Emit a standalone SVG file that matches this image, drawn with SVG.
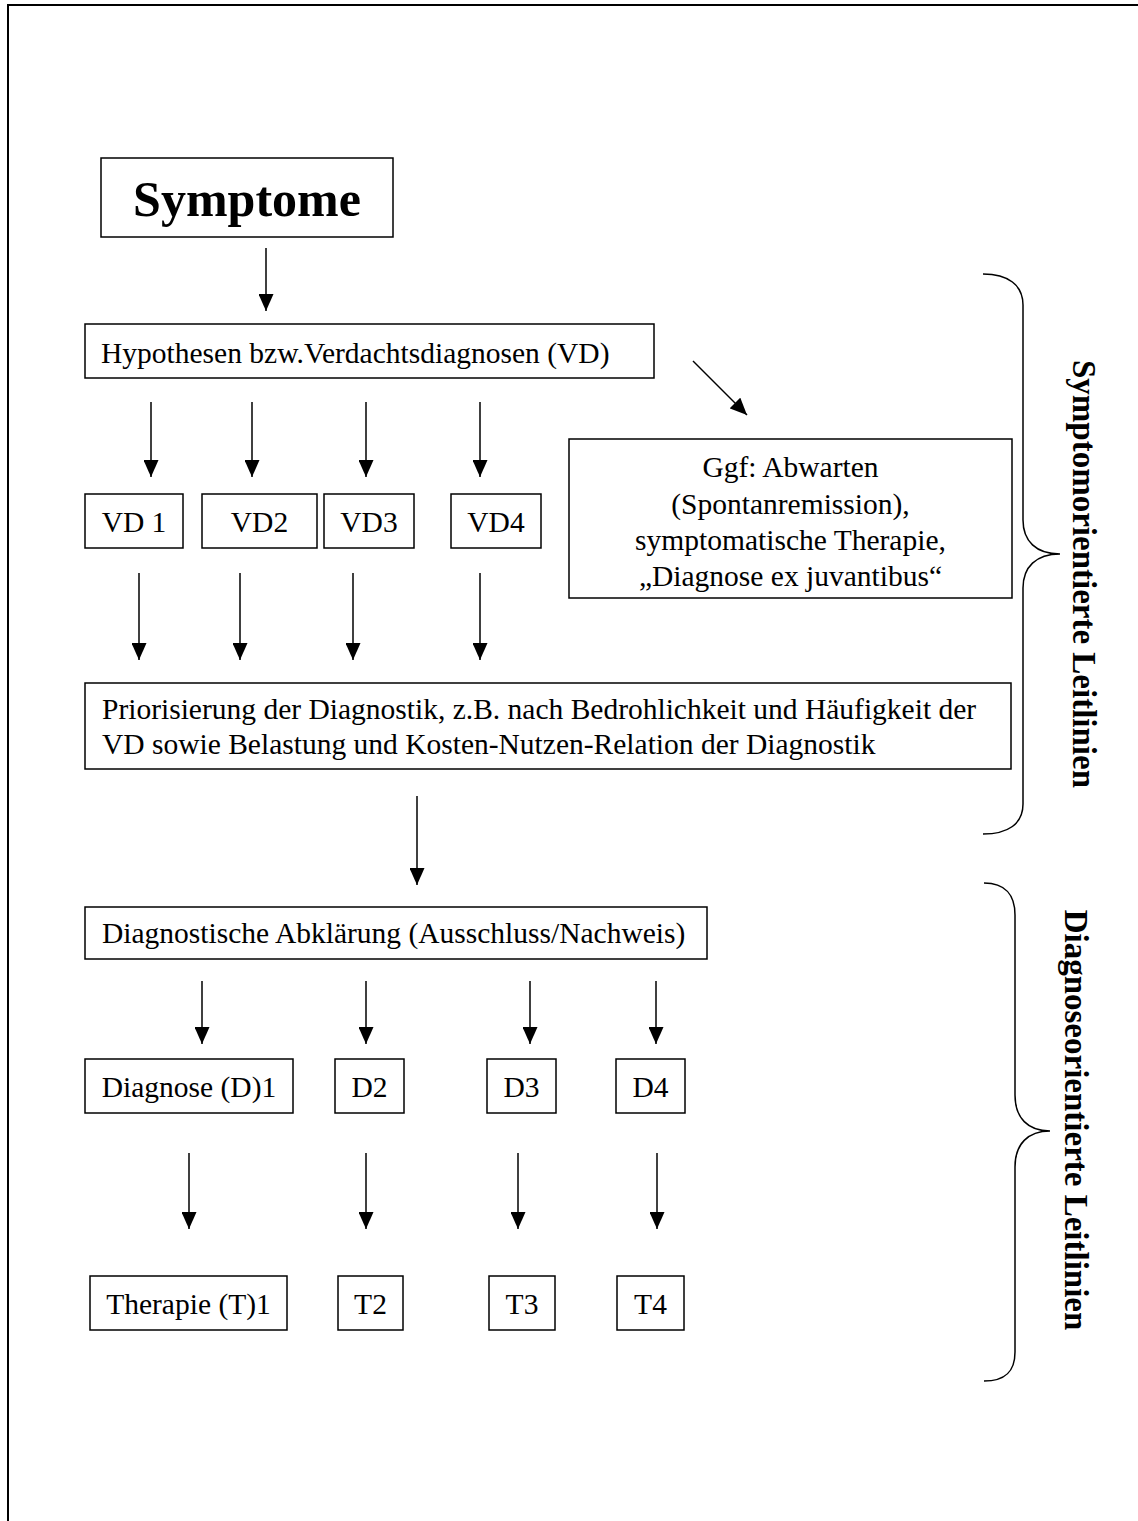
<svg xmlns="http://www.w3.org/2000/svg" width="1138" height="1521" viewBox="0 0 1138 1521">
<style>
.box{fill:#fff;stroke:#000;stroke-width:1.5}
.t{font-family:"Liberation Serif","Times New Roman",serif;font-size:29.5px;fill:#000}
.c{text-anchor:middle}
.b{font-weight:bold}
.conn line{stroke:#000;stroke-width:1.5;marker-end:url(#ah)}
.brace{fill:none;stroke:#000;stroke-width:1.5}
</style>
<defs>
<marker id="ah" markerUnits="userSpaceOnUse" markerWidth="17" markerHeight="15" refX="17" refY="7.5" orient="auto" viewBox="0 0 17 15">
<path d="M0,0 L17,7.5 L0,15 z" fill="#000"/>
</marker>
</defs>
<rect width="1138" height="1521" fill="#fff"/>
<path d="M8,1521 V5 H1138" fill="none" stroke="#000" stroke-width="2"/>

<g id="symptome"><rect class="box" x="101" y="158" width="292" height="79"/><text class="t b c" x="247" y="216" style="font-size:50px">Symptome</text></g>
<g id="hypothesen"><rect class="box" x="85" y="324" width="569" height="54"/><text class="t" x="101" y="363">Hypothesen bzw.Verdachtsdiagnosen (VD)</text></g>
<g id="vd1"><rect class="box" x="85" y="494" width="98" height="54"/><text class="t c" x="134" y="532">VD 1</text></g>
<g id="vd2"><rect class="box" x="202" y="494" width="115" height="54"/><text class="t c" x="259.5" y="532">VD2</text></g>
<g id="vd3"><rect class="box" x="324" y="494" width="90" height="54"/><text class="t c" x="369" y="532">VD3</text></g>
<g id="vd4"><rect class="box" x="451" y="494" width="90" height="54"/><text class="t c" x="496" y="532">VD4</text></g>
<g id="ggf"><rect class="box" x="569" y="439" width="443" height="159"/>
<text class="t c" x="790.5" y="477">Ggf: Abwarten</text>
<text class="t c" x="790.5" y="514">(Spontanremission),</text>
<text class="t c" x="790.5" y="550">symptomatische Therapie,</text>
<text class="t c" x="790.5" y="586">„Diagnose ex juvantibus“</text></g>
<g id="priorisierung"><rect class="box" x="85" y="683" width="926" height="86"/>
<text class="t" x="102" y="719">Priorisierung der Diagnostik, z.B. nach Bedrohlichkeit und Häufigkeit der</text>
<text class="t" x="102" y="754">VD sowie Belastung und Kosten-Nutzen-Relation der Diagnostik</text></g>
<g id="abklaerung"><rect class="box" x="85" y="907" width="622" height="52"/><text class="t" x="102" y="943">Diagnostische Abklärung (Ausschluss/Nachweis)</text></g>
<g id="d1"><rect class="box" x="85" y="1059" width="208" height="54"/><text class="t c" x="189" y="1097">Diagnose (D)1</text></g>
<g id="d2"><rect class="box" x="335" y="1059" width="69" height="54"/><text class="t c" x="369.5" y="1097">D2</text></g>
<g id="d3"><rect class="box" x="487" y="1059" width="69" height="54"/><text class="t c" x="521.5" y="1097">D3</text></g>
<g id="d4"><rect class="box" x="616" y="1059" width="69" height="54"/><text class="t c" x="650.5" y="1097">D4</text></g>
<g id="t1"><rect class="box" x="90" y="1276" width="197" height="54"/><text class="t c" x="188.5" y="1314">Therapie (T)1</text></g>
<g id="t2"><rect class="box" x="338" y="1276" width="65" height="54"/><text class="t c" x="370.5" y="1314">T2</text></g>
<g id="t3"><rect class="box" x="489" y="1276" width="66" height="54"/><text class="t c" x="522" y="1314">T3</text></g>
<g id="t4"><rect class="box" x="617" y="1276" width="67" height="54"/><text class="t c" x="650.5" y="1314">T4</text></g>

<g id="brace-symptom"><path class="brace" d="M983,274 C1008,274 1023,285 1023,305 L1023,520 C1023,541 1036,554 1060,554 C1036,554 1023,567 1023,588 L1023,804 C1023,824 1008,834 983,834"/>
<text class="t b c" style="font-size:33px" transform="translate(1073,574) rotate(90)">Symptomorientierte Leitlinien</text></g>
<g id="brace-diagnose"><path class="brace" d="M984,883 C1005,883 1015,895 1015,915 L1015,1095 C1015,1118 1028,1131 1050,1131 C1028,1131 1015,1144 1015,1167 L1015,1352 C1015,1372 1005,1381 984,1381"/>
<text class="t b c" style="font-size:33px" transform="translate(1065,1120) rotate(90)">Diagnoseorientierte Leitlinien</text></g>

<g id="connectors" class="conn">
<line x1="266" y1="248" x2="266" y2="311"/>
<line x1="151" y1="402" x2="151" y2="477"/>
<line x1="252" y1="402" x2="252" y2="477"/>
<line x1="366" y1="402" x2="366" y2="477"/>
<line x1="480" y1="402" x2="480" y2="477"/>
<line x1="693" y1="361" x2="747" y2="415"/>
<line x1="139" y1="573" x2="139" y2="660"/>
<line x1="240" y1="573" x2="240" y2="660"/>
<line x1="353" y1="573" x2="353" y2="660"/>
<line x1="480" y1="573" x2="480" y2="660"/>
<line x1="417" y1="796" x2="417" y2="885"/>
<line x1="202" y1="981" x2="202" y2="1044"/>
<line x1="366" y1="981" x2="366" y2="1044"/>
<line x1="530" y1="981" x2="530" y2="1044"/>
<line x1="656" y1="981" x2="656" y2="1044"/>
<line x1="189" y1="1153" x2="189" y2="1229"/>
<line x1="366" y1="1153" x2="366" y2="1229"/>
<line x1="518" y1="1153" x2="518" y2="1229"/>
<line x1="657" y1="1153" x2="657" y2="1229"/>
</g>
</svg>
